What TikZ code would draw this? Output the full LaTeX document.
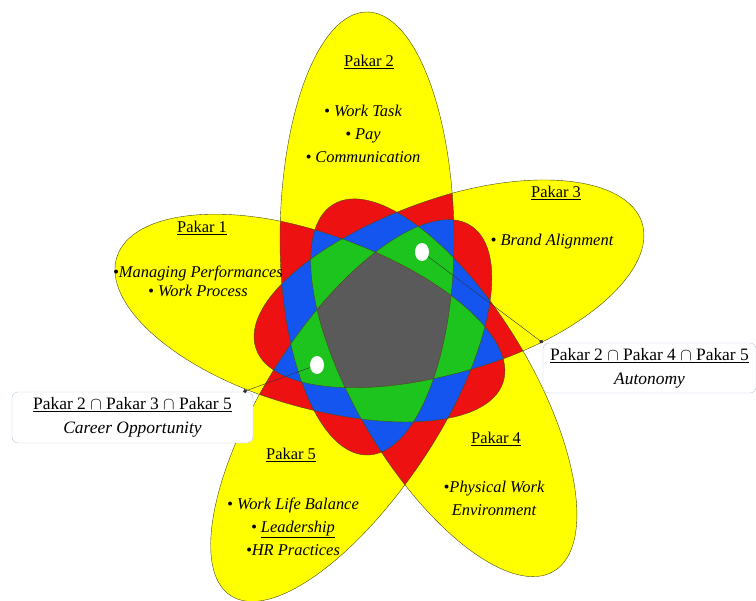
\documentclass[tikz,border=0pt]{standalone}
\usepackage{fontspec}
\setmainfont{Liberation Serif}
\usetikzlibrary{arrows.meta,shapes.geometric}
\definecolor{venyellow}{HTML}{FFFF00}
\definecolor{venred}{HTML}{EE1111}
\definecolor{venblue}{HTML}{1455F0}
\definecolor{vengreen}{HTML}{1EC41E}
\definecolor{vengray}{HTML}{5A5A5A}
\definecolor{venline}{HTML}{4A4A14}
\definecolor{boxline}{HTML}{B4C8DC}
% one petal: outer half as long as \tiplen, inner half the same for all five
\newcommand{\petal}{(69,-85) arc[start angle=0,end angle=-180,x radius=87,y radius=\tiplen]
  arc[start angle=180,end angle=0,x radius=87,y radius=215] -- cycle}

\begin{document}
\begin{tikzpicture}[x=1bp,y=-1bp,font=\fontsize{16.5}{23}\selectfont,
  pk0/.style={rotate=0,/utils/exec=\def\tiplen{228}},   % Pakar 2
  pk1/.style={rotate=72,/utils/exec=\def\tiplen{191}},  % Pakar 1
  pk2/.style={rotate=147,/utils/exec=\def\tiplen{226}}, % Pakar 5
  pk3/.style={rotate=211,/utils/exec=\def\tiplen{213}}, % Pakar 4
  pk4/.style={rotate=288,/utils/exec=\def\tiplen{191}}, % Pakar 3
  title/.style={align=center},
  items/.style={align=center,font=\fontsize{16.5}{23}\selectfont\itshape},
  spot/.style={ellipse,fill=white,inner sep=0pt,minimum width=14bp,minimum height=18bp},
  callout/.style={draw=boxline,rounded corners=6bp,fill=white,align=center,inner sep=0pt,
    font=\fontsize{17.5}{23}\selectfont},
  link/.style={-{Circle[length=4bp]},draw=black!80,thin}]
  \useasboundingbox (0,0) rectangle (756,601);
  \begin{scope}[shift={(385,325)}]
    % yellow = one Pakar, red = two, blue = three, green = four, grey = all five
    \foreach \k in {0,...,4} \fill[venyellow,pk\k] \petal;
    \foreach \i/\j in {0/1,0/2,0/3,0/4,1/2,1/3,1/4,2/3,2/4,3/4} {
      \begin{scope}
        \clip[pk\i] \petal;
        \fill[venred,pk\j] \petal;
      \end{scope}}
    \foreach \i/\j/\l in {0/1/2,0/1/3,0/1/4,0/2/3,0/2/4,0/3/4,1/2/3,1/2/4,1/3/4,2/3/4} {
      \begin{scope}
        \clip[pk\i] \petal;
        \clip[pk\j] \petal;
        \fill[venblue,pk\l] \petal;
      \end{scope}}
    \foreach \i/\j/\l/\m in {1/2/3/4,0/2/3/4,0/1/3/4,0/1/2/4,0/1/2/3} {
      \begin{scope}
        \clip[pk\i] \petal;
        \clip[pk\j] \petal;
        \clip[pk\l] \petal;
        \fill[vengreen,pk\m] \petal;
      \end{scope}}
    \begin{scope}
      \foreach \k in {0,...,3} \clip[pk\k] \petal;
      \fill[vengray,pk4] \petal;
    \end{scope}
    \foreach \k in {0,...,4} \draw[venline,thin,pk\k] \petal;
  \end{scope}

  \node[title] (p2t) at (369,62) {\underline{Pakar 2}};
  \node[items] (p2i) at (363,134) {• Work Task\\ • Pay\\ • Communication};
  \node[title] (p1t) at (202,228) {\underline{Pakar 1}};
  \node[items] (p1i) at (198,281) {•Managing Performances\\[-4pt] • Work Process};
  \node[title] (p3t) at (556,193) {\underline{Pakar 3}};
  \node[items] (p3i) at (552,242) {• Brand Alignment};
  \node[title] (p4t) at (496,439) {\underline{Pakar 4}};
  \node[items] (p4i) at (494,498) {•Physical Work\\ Environment};
  \node[title] (p5t) at (291,455) {\underline{Pakar 5}};
  \node[items] (p5i) at (293,527) {• Work Life Balance\\ • \underline{Leadership}\\ •HR Practices};

  \node[spot] (spotA) at (422,252) {};
  \node[spot] (spotB) at (317,365) {};
  \node[callout,minimum width=213bp,minimum height=50bp] (autobox) at (649.5,368)
    {\underline{Pakar 2 $\cap$ Pakar 4 $\cap$ Pakar 5}\\[1pt] \itshape Autonomy};
  \node[callout,minimum width=241bp,minimum height=51bp] (careerbox) at (132.5,417.5)
    {\underline{Pakar 2 $\cap$ Pakar 3 $\cap$ Pakar 5}\\[1pt] \itshape Career Opportunity};
  \draw[link] (spotA) -- (autobox.north west);
  \draw[link] (spotB) -- ([xshift=-10bp]careerbox.north east);
\end{tikzpicture}
\end{document}
